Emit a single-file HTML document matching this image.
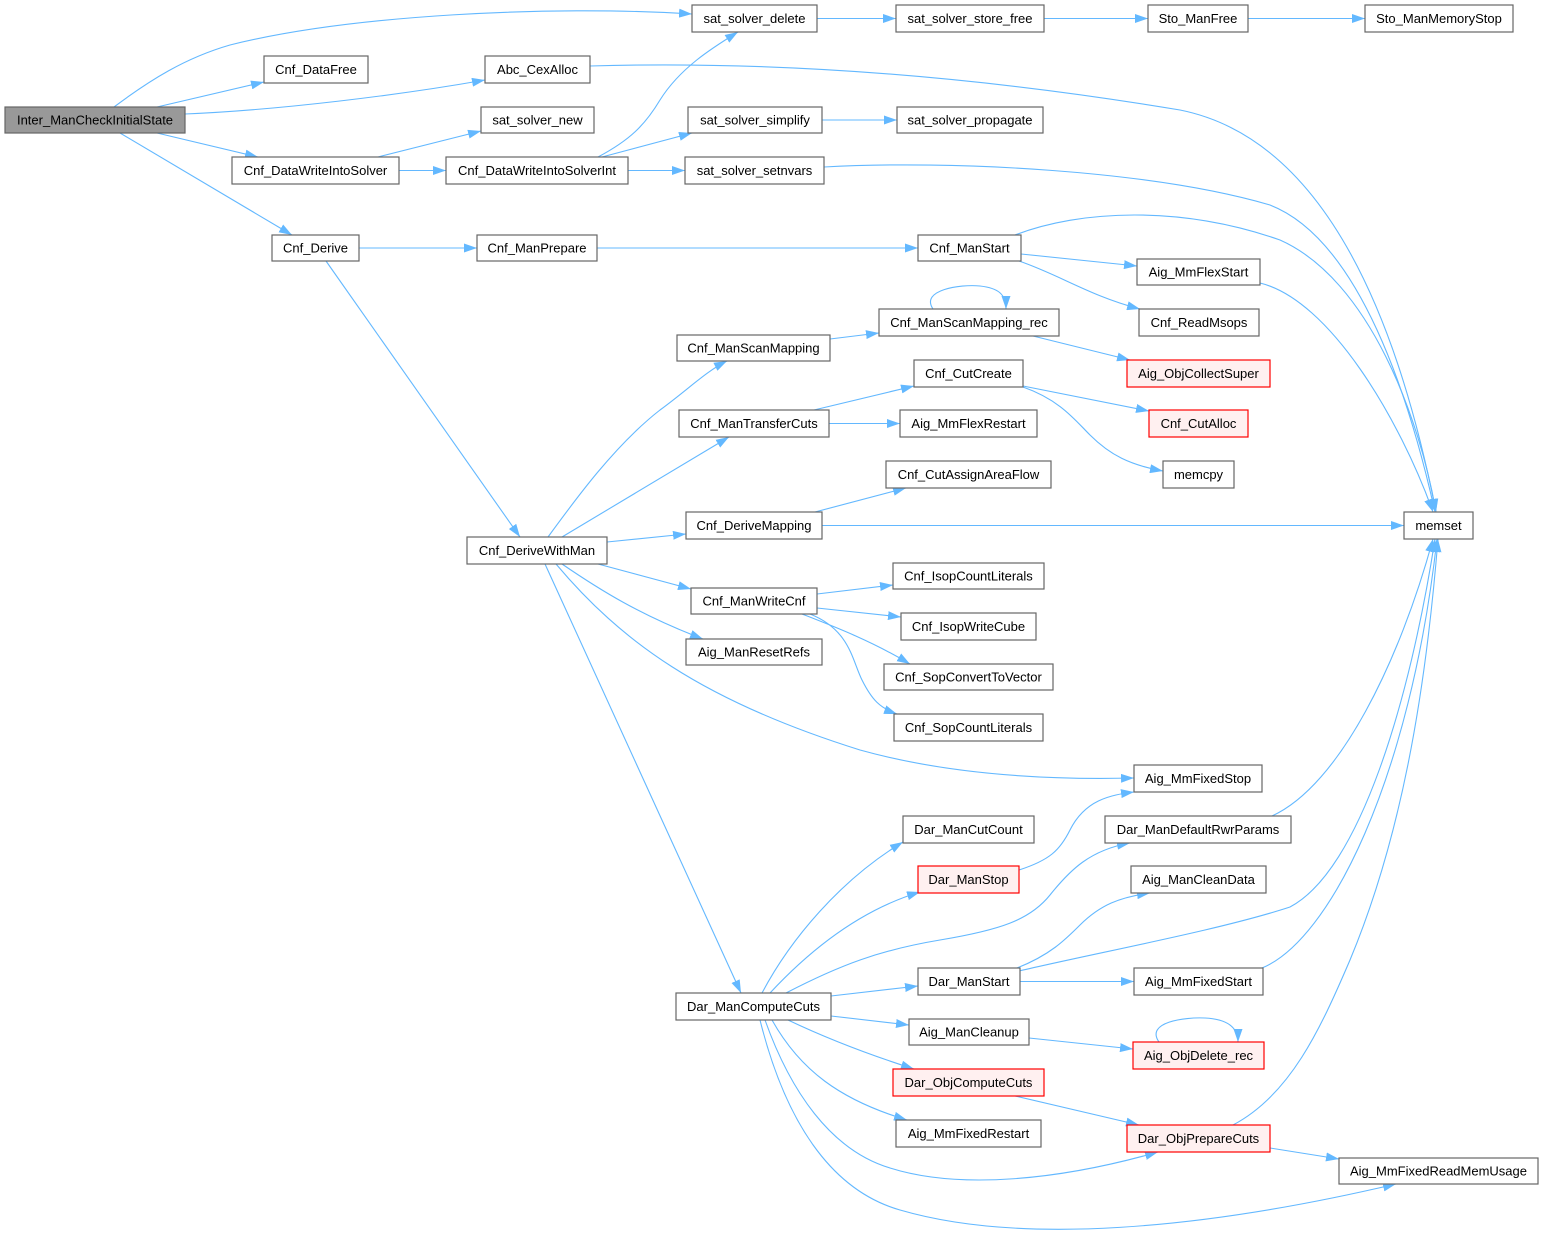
<!DOCTYPE html>
<html><head><meta charset="utf-8"><style>
html,body{margin:0;padding:0;background:#fff;}
svg{display:block;}
text{font-family:"Liberation Sans",Arial,sans-serif;font-size:13px;fill:#000;text-anchor:middle;}
.e{fill:none;stroke:#63b8ff;stroke-width:1.1;marker-end:url(#a);}
.n{fill:#fff;stroke:#666;stroke-width:1.2;}
.r{fill:#fff0f0;stroke:#ff0000;stroke-width:1.2;}
.g{fill:#999;stroke:#666;stroke-width:1.2;}
</style></head><body>
<svg width="1544" height="1240" viewBox="0 0 1544 1240" xmlns="http://www.w3.org/2000/svg">
<defs><marker id="a" markerWidth="13" markerHeight="9" refX="13" refY="4.5" orient="auto" markerUnits="userSpaceOnUse"><path d="M0,0 L13,4.5 L0,9 z" fill="#63b8ff"/></marker></defs>
<g>
<path class="e" d="M114,107 C150,80 185,58 230,45 C350,15 550,5 692,14"/>
<path class="e" d="M157,107 L264,82"/>
<path class="e" d="M185,114 C280,110 400,95 485,80"/>
<path class="e" d="M157,133 L258,157"/>
<path class="e" d="M120,133 L292,235"/>
<path class="e" d="M590,66 C800,60 1000,80 1180,110 C1330,140 1400,330 1436,512"/>
<path class="e" d="M378,157 L481,131"/>
<path class="e" d="M399,170.5 L446,170.5"/>
<path class="e" d="M598,157 C630,140 645,125 660,100 C680,68 712,48 738,32"/>
<path class="e" d="M602,157 L692,133"/>
<path class="e" d="M628,170.5 L685,170.5"/>
<path class="e" d="M817,18.5 L896,18.5"/>
<path class="e" d="M1044,18.5 L1148,18.5"/>
<path class="e" d="M1248,18.5 L1365,18.5"/>
<path class="e" d="M822,120 L897,120"/>
<path class="e" d="M824,167 C950,160 1150,170 1270,205 C1360,240 1410,400 1435,512"/>
<path class="e" d="M359,248 L477,248"/>
<path class="e" d="M326,261 L520,537"/>
<path class="e" d="M597,248 L918,248"/>
<path class="e" d="M1015,235 C1080,210 1180,205 1280,240 C1370,280 1420,420 1436,512"/>
<path class="e" d="M1021,254 L1137,266"/>
<path class="e" d="M1019,261 C1060,275 1090,296 1140,309"/>
<path class="e" d="M1260,283 C1330,300 1400,420 1433,512"/>
<path class="e" d="M830,339 L879,333"/>
<path class="e" d="M933,309 C920,290 960,284 980,286 C998,288 1006,294 1006,309"/>
<path class="e" d="M1033,336 L1130,360"/>
<path class="e" d="M1023,386 L1149,411"/>
<path class="e" d="M1023,387 C1060,400 1075,420 1090,435 C1110,455 1130,465 1163,471"/>
<path class="e" d="M814,410 L914,386"/>
<path class="e" d="M829,423.5 L900,423.5"/>
<path class="e" d="M815,512 L906,488"/>
<path class="e" d="M822,525.5 L1404,525.5"/>
<path class="e" d="M548,537 C575,500 615,445 660,410 C690,388 705,372 727,361"/>
<path class="e" d="M562,537 L729,437"/>
<path class="e" d="M607,542 L686,534"/>
<path class="e" d="M598,564 L691,589"/>
<path class="e" d="M562,564 C600,590 640,615 703,639"/>
<path class="e" d="M556,564 C620,640 700,700 860,750 C950,775 1050,780 1134,778"/>
<path class="e" d="M545,564 L741,993"/>
<path class="e" d="M817,594 L893,585"/>
<path class="e" d="M817,608 L901,617"/>
<path class="e" d="M802,614 C830,625 870,640 910,664"/>
<path class="e" d="M810,614 C850,630 852,660 862,680 C872,700 880,708 897,714"/>
<path class="e" d="M762,993 C790,940 840,880 903,842"/>
<path class="e" d="M770,993 C810,950 860,910 920,892"/>
<path class="e" d="M786,993 C840,965 880,950 940,940 C1000,930 1030,920 1050,895 C1070,870 1090,850 1130,843"/>
<path class="e" d="M831,996 L918,986"/>
<path class="e" d="M831,1016 L909,1025"/>
<path class="e" d="M788,1020 C830,1040 870,1055 914,1069"/>
<path class="e" d="M772,1020 C800,1070 840,1100 907,1120"/>
<path class="e" d="M765,1020 C790,1090 830,1150 890,1168 C960,1190 1060,1180 1158,1152"/>
<path class="e" d="M760,1020 C785,1120 830,1190 900,1210 C1020,1245 1200,1230 1396,1184"/>
<path class="e" d="M1019,870 C1050,860 1060,850 1070,830 C1085,800 1110,795 1134,792"/>
<path class="e" d="M1272,816 C1340,785 1400,660 1433,539"/>
<path class="e" d="M1017,968 C1050,955 1065,940 1080,925 C1100,905 1120,897 1150,893"/>
<path class="e" d="M1019,971 C1100,952 1220,930 1290,907 C1360,870 1410,700 1435,539"/>
<path class="e" d="M1020,981.5 L1134,981.5"/>
<path class="e" d="M1262,968 C1330,940 1410,780 1437,539"/>
<path class="e" d="M1029,1038 L1133,1049"/>
<path class="e" d="M1159,1042 C1145,1022 1185,1017 1205,1018 C1225,1019 1238,1026 1238,1042"/>
<path class="e" d="M1015,1096 L1139,1125"/>
<path class="e" d="M1233,1125 C1290,1095 1320,1030 1350,960 C1400,840 1425,700 1438,539"/>
<path class="e" d="M1270,1148 L1339,1159"/>
</g>
<g>
<rect class="g" x="5" y="107" width="180" height="26"/><text x="95" y="124.5">Inter_ManCheckInitialState</text>
<rect class="n" x="692" y="5" width="125" height="27"/><text x="754.5" y="23">sat_solver_delete</text>
<rect class="n" x="264" y="56" width="104" height="27"/><text x="316" y="74">Cnf_DataFree</text>
<rect class="n" x="485" y="56" width="105" height="27"/><text x="537.5" y="74">Abc_CexAlloc</text>
<rect class="n" x="481" y="107" width="113" height="26"/><text x="537.5" y="124.5">sat_solver_new</text>
<rect class="n" x="688" y="107" width="134" height="26"/><text x="755" y="124.5">sat_solver_simplify</text>
<rect class="n" x="897" y="107" width="146" height="26"/><text x="970" y="124.5">sat_solver_propagate</text>
<rect class="n" x="232" y="157" width="167" height="27"/><text x="315.5" y="175">Cnf_DataWriteIntoSolver</text>
<rect class="n" x="446" y="157" width="182" height="27"/><text x="537" y="175">Cnf_DataWriteIntoSolverInt</text>
<rect class="n" x="685" y="157" width="139" height="27"/><text x="754.5" y="175">sat_solver_setnvars</text>
<rect class="n" x="896" y="5" width="148" height="27"/><text x="970" y="23">sat_solver_store_free</text>
<rect class="n" x="1148" y="5" width="100" height="27"/><text x="1198" y="23">Sto_ManFree</text>
<rect class="n" x="1365" y="5" width="148" height="27"/><text x="1439" y="23">Sto_ManMemoryStop</text>
<rect class="n" x="272" y="235" width="87" height="26"/><text x="315.5" y="252.5">Cnf_Derive</text>
<rect class="n" x="477" y="235" width="120" height="26"/><text x="537" y="252.5">Cnf_ManPrepare</text>
<rect class="n" x="918" y="235" width="103" height="26"/><text x="969.5" y="252.5">Cnf_ManStart</text>
<rect class="n" x="1137" y="259" width="123" height="26"/><text x="1198.5" y="276.5">Aig_MmFlexStart</text>
<rect class="n" x="1139" y="309" width="120" height="27"/><text x="1199" y="327">Cnf_ReadMsops</text>
<rect class="n" x="879" y="309" width="180" height="27"/><text x="969" y="327">Cnf_ManScanMapping_rec</text>
<rect class="n" x="677" y="335" width="153" height="26"/><text x="753.5" y="352.5">Cnf_ManScanMapping</text>
<rect class="r" x="1127" y="360" width="143" height="27"/><text x="1198.5" y="378">Aig_ObjCollectSuper</text>
<rect class="n" x="914" y="360" width="109" height="27"/><text x="968.5" y="378">Cnf_CutCreate</text>
<rect class="n" x="679" y="410" width="150" height="27"/><text x="754" y="428">Cnf_ManTransferCuts</text>
<rect class="n" x="900" y="410" width="137" height="27"/><text x="968.5" y="428">Aig_MmFlexRestart</text>
<rect class="r" x="1149" y="410" width="99" height="27"/><text x="1198.5" y="428">Cnf_CutAlloc</text>
<rect class="n" x="1163" y="461" width="71" height="27"/><text x="1198.5" y="479">memcpy</text>
<rect class="n" x="886" y="461" width="165" height="27"/><text x="968.5" y="479">Cnf_CutAssignAreaFlow</text>
<rect class="n" x="1404" y="512" width="69" height="27"/><text x="1438.5" y="530">memset</text>
<rect class="n" x="686" y="512" width="136" height="27"/><text x="754" y="530">Cnf_DeriveMapping</text>
<rect class="n" x="467" y="537" width="140" height="27"/><text x="537" y="555">Cnf_DeriveWithMan</text>
<rect class="n" x="893" y="563" width="151" height="26"/><text x="968.5" y="580.5">Cnf_IsopCountLiterals</text>
<rect class="n" x="691" y="588" width="126" height="26"/><text x="754" y="605.5">Cnf_ManWriteCnf</text>
<rect class="n" x="901" y="613" width="135" height="27"/><text x="968.5" y="631">Cnf_IsopWriteCube</text>
<rect class="n" x="686" y="639" width="136" height="26"/><text x="754" y="656.5">Aig_ManResetRefs</text>
<rect class="n" x="884" y="664" width="169" height="26"/><text x="968.5" y="681.5">Cnf_SopConvertToVector</text>
<rect class="n" x="894" y="714" width="149" height="27"/><text x="968.5" y="732">Cnf_SopCountLiterals</text>
<rect class="n" x="1134" y="765" width="128" height="27"/><text x="1198" y="783">Aig_MmFixedStop</text>
<rect class="n" x="903" y="816" width="131" height="27"/><text x="968.5" y="834">Dar_ManCutCount</text>
<rect class="n" x="1105" y="816" width="186" height="27"/><text x="1198" y="834">Dar_ManDefaultRwrParams</text>
<rect class="r" x="918" y="866" width="101" height="27"/><text x="968.5" y="884">Dar_ManStop</text>
<rect class="n" x="1131" y="866" width="135" height="27"/><text x="1198.5" y="884">Aig_ManCleanData</text>
<rect class="n" x="918" y="968" width="102" height="27"/><text x="969" y="986">Dar_ManStart</text>
<rect class="n" x="1134" y="968" width="129" height="27"/><text x="1198.5" y="986">Aig_MmFixedStart</text>
<rect class="n" x="676" y="993" width="155" height="27"/><text x="753.5" y="1011">Dar_ManComputeCuts</text>
<rect class="n" x="909" y="1019" width="120" height="26"/><text x="969" y="1036.5">Aig_ManCleanup</text>
<rect class="r" x="1133" y="1042" width="131" height="27"/><text x="1198.5" y="1060">Aig_ObjDelete_rec</text>
<rect class="r" x="893" y="1069" width="151" height="27"/><text x="968.5" y="1087">Dar_ObjComputeCuts</text>
<rect class="n" x="896" y="1120" width="145" height="27"/><text x="968.5" y="1138">Aig_MmFixedRestart</text>
<rect class="r" x="1127" y="1125" width="143" height="27"/><text x="1198.5" y="1143">Dar_ObjPrepareCuts</text>
<rect class="n" x="1339" y="1158" width="199" height="26"/><text x="1438.5" y="1175.5">Aig_MmFixedReadMemUsage</text>
</g>
</svg>
</body></html>
